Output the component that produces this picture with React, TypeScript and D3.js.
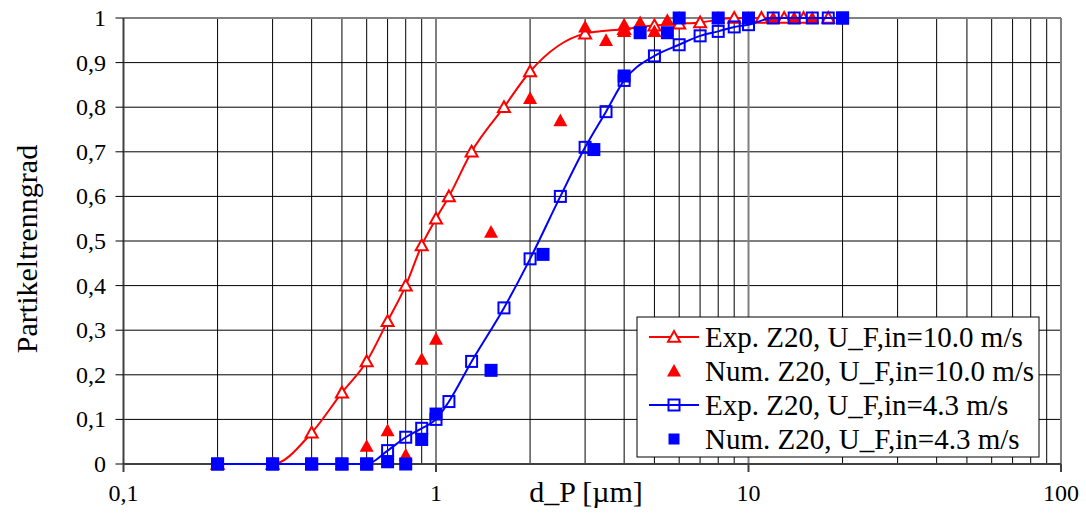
import { useMemo } from "react";
import * as d3 from "d3";

const W = 1086;
const H = 516;

// Exp. Z20, U_F,in=10.0 m/s  (open triangles + line)
const expRedX = [0.2, 0.3, 0.4, 0.5, 0.6, 0.7, 0.8, 0.9, 1.0, 1.1, 1.3, 1.65, 2.0, 3.0, 4.0, 5.0, 6.0, 7.0, 9, 11, 13, 15, 18];
const expRedY = [0, 0, 0.07, 0.16, 0.23, 0.32, 0.4, 0.49, 0.55, 0.6, 0.7, 0.8, 0.88, 0.965, 0.975, 0.983, 0.987, 0.99, 1, 1, 1, 1, 1];

// Num. Z20, U_F,in=10.0 m/s  (filled triangles)
const numRedX = [0.2, 0.3, 0.4, 0.5, 0.6, 0.7, 0.8, 0.9, 1.0, 1.5, 2.0, 2.5, 3.0, 3.5, 4.0, 4.0, 4.5, 5.0, 5.5, 6, 8, 10, 12, 14, 16];
const numRedY = [0, 0, 0, 0, 0.04, 0.075, 0.02, 0.235, 0.28, 0.52, 0.82, 0.77, 0.98, 0.95, 0.985, 0.97, 0.99, 0.97, 0.995, 1, 1, 1, 1, 1, 1];

// Exp. Z20, U_F,in=4.3 m/s  (open squares + line)
const expBlueX = [0.2, 0.3, 0.4, 0.5, 0.6, 0.7, 0.8, 0.9, 1.0, 1.1, 1.3, 1.65, 2.0, 2.5, 3.0, 3.5, 4.0, 5.0, 6.0, 7.0, 8.0, 9.0, 10, 12, 14, 16, 18, 20];
const expBlueY = [0, 0, 0, 0, 0, 0.03, 0.06, 0.08, 0.1, 0.14, 0.23, 0.35, 0.46, 0.6, 0.71, 0.79, 0.86, 0.915, 0.94, 0.96, 0.97, 0.98, 0.985, 1, 1, 1, 1, 1];

// Num. Z20, U_F,in=4.3 m/s  (filled squares)
const numBlueX = [0.2, 0.3, 0.4, 0.5, 0.6, 0.7, 0.8, 0.9, 1.0, 1.5, 2.2, 3.2, 4.0, 4.5, 5.5, 6, 8, 10, 20];
const numBlueY = [0, 0, 0, 0, 0, 0.005, 0, 0.055, 0.112, 0.21, 0.47, 0.705, 0.87, 0.967, 0.967, 1, 1, 1, 1];

const yTicks = [0, 0.1, 0.2, 0.3, 0.4, 0.5, 0.6, 0.7, 0.8, 0.9, 1];
const xTicks = [0.1, 1, 10, 100];
const xTickLabels = ["0,1", "1", "10", "100"];

const legendLabels = [
  "Exp. Z20, U_F,in=10.0 m/s",
  "Num. Z20, U_F,in=10.0 m/s",
  "Exp. Z20, U_F,in=4.3 m/s",
  "Num. Z20, U_F,in=4.3 m/s",
];

const RED = "#ff0000";
const BLUE = "#0000ff";
const FONT = "Liberation Serif, DejaVu Serif, serif";

const zip = (xs: number[], ys: number[]) => xs.map((x, i) => [x, ys[i]] as [number, number]);

function OpenTri({ x, y }: { x: number; y: number }) {
  const s = 6;
  return (
    <path
      d={`M${x},${y - s}L${x + s},${y + s * 0.8}L${x - s},${y + s * 0.8}Z`}
      fill="white"
      stroke={RED}
      strokeWidth={2}
    />
  );
}

function FilledTri({ x, y }: { x: number; y: number }) {
  const s = 7;
  return <path d={`M${x},${y - s}L${x + s},${y + s * 0.8}L${x - s},${y + s * 0.8}Z`} fill={RED} />;
}

function OpenSq({ x, y }: { x: number; y: number }) {
  return <rect x={x - 5.5} y={y - 5.5} width={11} height={11} fill="none" stroke={BLUE} strokeWidth={2} />;
}

function FilledSq({ x, y }: { x: number; y: number }) {
  return <rect x={x - 6.5} y={y - 6.5} width={13} height={13} fill={BLUE} />;
}

export default function App() {
  const left = 123.5;
  const right = 1061;
  const top = 18;
  const bottom = 464;

  const x = useMemo(() => d3.scaleLog().domain([0.1, 100]).range([left, right]), []);
  const y = useMemo(() => d3.scaleLinear().domain([0, 1]).range([bottom, top]), []);

  const line = d3
    .line<[number, number]>()
    .x((d) => x(d[0]))
    .y((d) => y(d[1]))
    .curve(d3.curveMonotoneX);

  const expRed = zip(expRedX, expRedY);
  const numRed = zip(numRedX, numRedY);
  const expBlue = zip(expBlueX, expBlueY);
  const numBlue = zip(numBlueX, numBlueY);

  // minor grid positions 2..9 in each decade
  const minor: number[] = [];
  [0.1, 1, 10].forEach((dec) => {
    for (let k = 2; k <= 9; k++) minor.push(dec * k);
  });

  const fmtY = (v: number) => (v === 0 ? "0" : v === 1 ? "1" : d3.format(".1f")(v).replace(".", ","));

  // legend
  const lgX = 637;
  const lgY = 317;
  const lgW = 402;
  const lgH = 140;
  const rowY = [337, 371, 405, 439];

  const txt = { fontFamily: FONT, fill: "#000" };

  return (
    <div style={{ position: "absolute", left: 0, top: 0 }}>
      <svg width={W} height={H} style={{ display: "block", background: "white", fontFamily: FONT }}>
        <rect width={W} height={H} fill="white" />

        {/* horizontal grid */}
        {yTicks.slice(1, -1).map((t) => (
          <line key={"hg" + t} x1={left} x2={right} y1={y(t)} y2={y(t)} stroke="#000" strokeWidth={1} />
        ))}
        {/* vertical grid */}
        {minor.map((v) => (
          <line key={"vg" + v} x1={x(v)} x2={x(v)} y1={top} y2={bottom} stroke="#000" strokeWidth={1} />
        ))}
        {[1, 10].map((v) => (
          <line key={"vm" + v} x1={x(v)} x2={x(v)} y1={top} y2={bottom} stroke="#808080" strokeWidth={2} />
        ))}

        {/* plot frame */}
        <line x1={left} x2={right} y1={top} y2={top} stroke="#808080" strokeWidth={2} />
        <line x1={right} x2={right} y1={top} y2={bottom} stroke="#808080" strokeWidth={2} />
        <line x1={left} x2={left} y1={top} y2={bottom} stroke="#404040" strokeWidth={2} />
        <line x1={left} x2={right} y1={bottom} y2={bottom} stroke="#404040" strokeWidth={2} />

        {/* y ticks */}
        {yTicks.map((t) => (
          <g key={"yt" + t}>
            <line x1={left - 8} x2={left} y1={y(t)} y2={y(t)} stroke="#000" strokeWidth={1} />
            <text x={106} y={y(t) + 8} textAnchor="end" fontSize={24} style={txt}>
              {fmtY(t)}
            </text>
          </g>
        ))}

        {/* x ticks */}
        {xTicks.map((t, i) => (
          <g key={"xt" + t}>
            <line x1={x(t)} x2={x(t)} y1={bottom} y2={bottom + 8} stroke="#404040" strokeWidth={2} />
            <text x={x(t)} y={501} textAnchor="middle" fontSize={24} style={txt}>
              {xTickLabels[i]}
            </text>
          </g>
        ))}

        {/* axis titles */}
        <text x={586} y={502} textAnchor="middle" fontSize={30} style={txt}>
          d_P [µm]
        </text>
        <text transform="translate(37,249) rotate(-90)" textAnchor="middle" fontSize={30} style={txt}>
          Partikeltrenngrad
        </text>

        {/* series */}
        <path d={line(expRed) ?? ""} fill="none" stroke={RED} strokeWidth={2} />
        {expRed.map((d, i) => (
          <OpenTri key={"er" + i} x={x(d[0])} y={y(d[1])} />
        ))}
        {numRed.map((d, i) => (
          <FilledTri key={"nr" + i} x={x(d[0])} y={y(d[1])} />
        ))}
        <path d={line(expBlue) ?? ""} fill="none" stroke={BLUE} strokeWidth={2} />
        {expBlue.map((d, i) => (
          <OpenSq key={"eb" + i} x={x(d[0])} y={y(d[1])} />
        ))}
        {numBlue.map((d, i) => (
          <FilledSq key={"nb" + i} x={x(d[0])} y={y(d[1])} />
        ))}

        {/* legend */}
        <rect x={lgX} y={lgY} width={lgW} height={lgH} fill="white" stroke="#000" strokeWidth={1} />
        <line x1={649} x2={699} y1={rowY[0]} y2={rowY[0]} stroke={RED} strokeWidth={2} />
        <OpenTri x={674} y={rowY[0]} />
        <FilledTri x={674} y={rowY[1]} />
        <line x1={649} x2={699} y1={rowY[2]} y2={rowY[2]} stroke={BLUE} strokeWidth={2} />
        <OpenSq x={674} y={rowY[2]} />
        <rect x={674 - 5.5} y={rowY[3] - 5.5} width={11} height={11} fill={BLUE} />
        {legendLabels.map((l, i) => (
          <text key={l} x={705} y={rowY[i] + 9.5} fontSize={29} style={txt}>
            {l}
          </text>
        ))}
      </svg>
    </div>
  );
}
